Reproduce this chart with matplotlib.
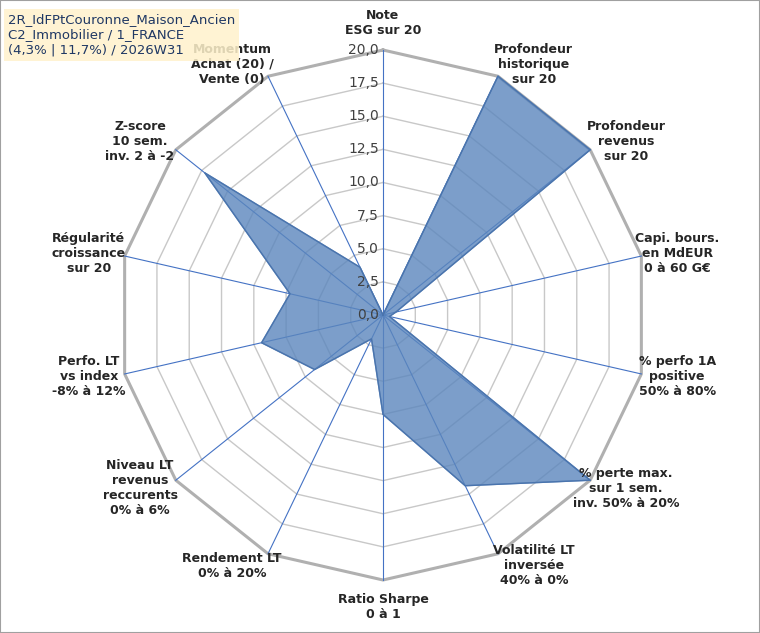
import numpy as np
import matplotlib.pyplot as plt
from matplotlib.patches import Rectangle

labels = ["Note\nESG sur 20", "Profondeur\nhistorique\nsur 20", "Profondeur\nrevenus\nsur 20",
          "Capi. bours.\nen MdEUR\n0 à 60 G€", "% perfo 1A\npositive\n50% à 80%",
          "% perte max.\nsur 1 sem.\ninv. 50% à 20%", "Volatilité LT\ninversée\n40% à 0%",
          "Ratio Sharpe\n0 à 1", "Rendement LT\n0% à 20%", "Niveau LT\nrevenus\nreccurents\n0% à 6%",
          "Perfo. LT\nvs index\n-8% à 12%", "Régularité\ncroissance\nsur 20",
          "Z-score\n10 sem.\ninv. 2 à -2", "Momentum\nAchat (20) /\nVente (0)"]
values = [0, 20, 20, 1, 0.5, 20, 14.3, 7.5, 2, 6.6, 9.4, 7.2, 17.2, 4]
ticks = [0, 2.5, 5, 7.5, 10, 12.5, 15, 17.5, 20]

n = len(labels)
ang = np.arange(n) * 2 * np.pi / n
sx, cy = np.sin(ang), np.cos(ang)

fig = plt.figure(figsize=(7.6, 6.33), dpi=100)
ax = fig.add_axes([0, 0, 1, 1])
s = 13.25
ax.set_xlim(-383 / s, 377 / s)
ax.set_ylim(-318 / s, 315 / s)
ax.axis("off")

# rings
for r in ticks[1:]:
    xs = np.append(r * sx, r * sx[0])
    ys = np.append(r * cy, r * cy[0])
    ax.plot(xs, ys, color="#c8c8c8" if r < 20 else "#b0b0b0", lw=1 if r < 20 else 2.2, zorder=1)
# spokes
for a, b in zip(sx, cy):
    ax.plot([0, 20 * a], [0, 20 * b], color="#4472c4", lw=0.8, zorder=2)

vx = np.array(values) * sx
vy = np.array(values) * cy
ax.fill(vx, vy, color="#5b86bd", alpha=0.8, zorder=3)
ax.plot(np.append(vx, vx[0]), np.append(vy, vy[0]), color="#4a74ad", lw=1, zorder=4)

for t in ticks:
    ax.text(-0.3, t, f"{t:.1f}".replace(".", ","), ha="right", va="center", fontsize=10, color="#404040", zorder=5)

for i, lab in enumerate(labels):
    if i == 0:
        x, y, va = 0, 21.0, "bottom"
    elif i == 7:
        x, y, va = 0, -21.0, "top"
    else:
        x = 20 * sx[i] + 2.7 * np.sign(sx[i])
        y = 20 * cy[i] + 1.0 * cy[i]
        va = "center"
    ax.text(x, y, lab, ha="center", va=va, fontsize=9, fontweight="bold", color="#262626", zorder=6,
            linespacing=1.2)

ax.text(-28.3, 22.8, "2R_IdFPtCouronne_Maison_Ancien\nC2_Immobilier / 1_FRANCE\n(4,3% | 11,7%) / 2026W31",
        ha="left", va="top", fontsize=9.5, color="#1f3864", zorder=7, linespacing=1.25,
        bbox=dict(boxstyle="square,pad=0.3", fc="#fff2cc", ec="none", alpha=0.85))

fig.patches.append(Rectangle((0, 0), 1, 1, transform=fig.transFigure, fill=False, ec="#a0a0a0", lw=1.5))
fig.savefig("out.png")
